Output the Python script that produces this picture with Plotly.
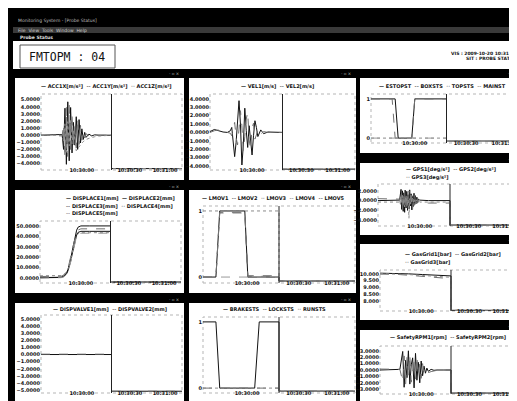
import plotly.graph_objects as go

W, H = 517, 401

# ------------------------------------------------------------------ data
time_tick_vals = [29, 63, 88]
time_tick_text = ["10:30:00", "10:30:30", "10:31:00"]

header_title = "FMTOPM : 04"
header_info = ["VIS : 2009-10-20 10:31:15", "SIT : PROBE STATUS"]

# panel 1 : accelerations
p1_time = [0, 10, 15, 16, 17, 18, 19, 20, 21, 22, 23, 24, 25, 26, 27, 28, 29, 30, 31, 32, 34, 36, 38, 41, 44, 47, 50, 50, 100]
p1_acc_x = [0, 0, 0.1, -2.0, 3.8, -4.1, 4.7, -3.6, 3.9, -2.5, 1.8, -1.4, 2.6, -2.0, 2.2, -1.1, 0.9, -0.6, 0.4, -0.3, 0.15, -0.1, 0.05, 0, 0, 0, 0, -4.7, -4.7]
p1_acc_y = [0, 0, -0.1, 1.5, -3.2, 3.9, -3.0, 4.2, -2.6, 2.9, -1.9, 1.2, -1.8, 2.4, -1.3, 1.4, -0.7, 0.5, -0.4, 0.2, -0.1, 0.05, 0, 0, 0, 0, 0, -4.7, -4.7]
p1_acc_z = [0, 0, 0, -0.8, 1.6, -2.4, 1.9, -1.5, 2.1, -1.2, 0.8, -0.6, -2.2, -1.9, -1.6, -1.3, -1.1, -0.9, -0.75, -0.6, -0.45, -0.32, -0.22, -0.12, -0.06, -0.02, 0, -4.7, -4.7]
p1_yticks = [5, 4, 3, 2, 1, 0, -1, -2, -3, -4]

# panel 2 : velocities
p2_time = [0, 3, 6, 9, 12, 14, 15, 16, 17, 18, 19, 20, 21, 22, 23, 24, 25, 26, 27, 28, 29, 30, 31, 32, 33, 35, 37, 40, 44, 50, 50, 100]
p2_vel_1 = [0.1, 0.35, 0.2, 0.05, 0, 0.2, 0.6, -0.8, -2.9, -1.2, 1.8, 3.8, 1.0, -3.9, -1.5, 2.9, 0.2, -1.8, 0.8, -1.0, -2.7, -0.4, 1.4, 0.6, -0.5, 0.3, -0.15, 0.05, 0, 0, -4.4, -4.4]
p2_vel_2 = [0, 0.2, 0.3, 0.1, 0, -0.1, -0.4, 0.5, 1.2, -0.6, -1.5, 0.4, 2.6, 0.8, -2.2, -0.5, 1.6, 2.4, -0.9, -2.0, 0.5, 1.1, -0.8, -0.3, 0.4, -0.2, 0.1, 0, 0, 0, -4.4, -4.4]
p2_yticks = [4, 3, 2, 1, 0, -1, -2, -3, -4]

# right 1 : status flags
r1_time = [0, 14, 16, 18, 27, 29, 50, 50, 100]
r1_estop = [1, 1, 1, 0, 0, 1, 1, -0.075, -0.075]
r1_box = [1, 1, 0, 0, 0, 1, 1, -0.075, -0.075]
r1_top = [0, 0, 0, 0, 0, 0, 0, -0.075, -0.075]
r1_main = [0, 0, 0, 0, 0, 0, 0, -0.075, -0.075]
r1_yticks = [1, 0]

# right 2 : angular accelerations
r2_time = [0, 10, 15, 16, 16.5, 17, 17.5, 18, 18.5, 19, 19.5, 20, 20.5, 21, 21.5, 22, 22.5, 23, 23.5, 24, 24.5, 25, 25.5, 26, 26.5, 27, 27.5, 28, 29, 35, 45, 50, 50, 100]
r2_acc_1 = [0, 0, 0.1, 2.3, -1.8, 2.0, -2.2, 1.6, -2.4, 2.1, -1.5, 1.9, -2.0, 1.2, -1.7, 2.2, -1.1, 1.4, -1.9, 0.9, -1.2, 1.5, -0.8, 1.0, -0.6, 0.7, -0.4, 0.3, 0.1, 0, 0, 0, -5.0, -5.0]
r2_acc_2 = [0.4, 0.4, 0.3, -1.5, 2.1, -2.3, 1.4, -1.9, 2.4, -1.2, 1.7, -2.1, 1.3, -1.6, 2.0, -0.9, 1.6, -1.4, 1.1, -1.8, 0.8, -1.0, 1.2, -0.7, 0.5, -0.6, 0.2, -0.3, -0.4, -0.5, -0.5, -0.5, -5.0, -5.0]
r2_acc_3 = [-0.3, -0.3, -0.3, 0.8, -0.6, 1.1, -0.9, 0.5, -1.3, 0.7, -0.4, 1.0, -0.8, 0.6, -3.6, 0.4, -0.7, 0.9, -0.5, 0.6, -0.3, 0.4, -0.2, 0.3, -0.1, 0.2, -0.1, 0, -0.3, -0.3, -0.3, -0.3, -5.0, -5.0]
r2_yticks = [2, 0, -2, -4]

# right 3 : gas pressures
r3_time = [0, 11, 20, 30, 40, 50, 50, 100]
r3_gas_1 = [10.05, 10.05, 10.0, 9.95, 9.9, 9.85, 7.35, 7.35]
r3_gas_2 = [9.98, 9.97, 9.9, 9.8, 9.72, 9.65, 7.35, 7.35]
r3_gas_3 = [10.02, 10.0, 9.95, 9.88, 9.8, 9.75, 7.35, 7.35]
r3_yticks = [10, 9.5, 9, 8.5, 8]

# right 4 : rotation speeds
r4_time = [0, 8, 14, 16, 17, 18, 19, 20, 21, 22, 23, 24, 25, 26, 27, 28, 29, 30, 31, 32, 33, 34, 36, 38, 40, 45, 50, 50, 100]
r4_rpm_1 = [0, 0, 0.1, 2.9, -2.7, 1.5, -1.2, 3.0, -2.2, 0.8, 1.9, -2.8, 2.6, -1.6, 1.2, -2.0, 1.4, -0.9, 0.6, -0.5, 0.3, -0.2, 0.1, -0.05, 0, 0, 0, -3.6, -3.6]
r4_rpm_2 = [0.15, 0.15, 0.1, -1.8, 2.2, -2.5, 2.0, -1.1, 2.4, -1.9, -0.6, 1.3, -1.5, 2.1, -0.8, 0.9, -1.3, 1.0, -0.7, -0.9, -0.6, -0.4, -0.25, -0.15, -0.05, 0, 0, -3.6, -3.6]
r4_yticks = [3, 2, 1, 0, -1, -2, -3]

# panel 4 : displacements
p4_time = [0, 10, 15, 17, 19, 20, 21, 22, 23, 24, 25, 26, 27, 28, 29, 35, 45, 50, 50, 100]
p4_disp_1 = [0.5, 0.5, 0.8, 2.0, 5.5, 9.0, 14.0, 20.0, 27.0, 34.0, 41.0, 46.0, 48.8, 49.8, 50.0, 50.0, 50.0, 50.0, -3.8, -3.8]
p4_disp_2 = [0.3, 0.3, 0.6, 1.6, 4.5, 7.5, 12.0, 17.5, 24.0, 30.5, 37.0, 41.5, 43.8, 44.6, 44.8, 44.8, 44.8, 44.8, -3.8, -3.8]
p4_disp_3 = [1.5, 1.5, 1.8, 3.0, 6.5, 10.0, 15.0, 21.0, 27.5, 33.5, 39.0, 43.5, 46.0, 47.0, 47.2, 47.2, 47.2, 47.2, -3.8, -3.8]
p4_disp_4 = [2.2, 2.2, 2.4, 3.5, 6.0, 9.0, 13.5, 19.0, 25.0, 31.0, 36.5, 40.5, 42.5, 43.2, 43.5, 43.5, 43.5, 43.5, -3.8, -3.8]
p4_disp_5 = [0.1, 0.1, 0.4, 1.2, 4.0, 7.0, 11.0, 16.5, 23.0, 29.5, 35.5, 40.0, 42.0, 42.8, 43.0, 43.0, 43.0, 43.0, -3.8, -3.8]
p4_yticks = [50, 40, 30, 20, 10, 0]

# panel 5 : movement flags
p5_time = [0, 8.5, 11, 27.5, 29.5, 50, 50, 100]
p5_lmov_1 = [0, 0, 1, 1, 0, 0, -0.06, -0.06]
p5_lmov_2 = [0, 0, 0.98, 0.98, 0.01, 0.01, -0.06, -0.06]
p5_lmov_3 = [1, 1, 1, 1, 1, 1, -0.06, -0.06]
p5_lmov_4 = [0, 0, 0, 0, 0, 0, -0.06, -0.06]
p5_lmov_5 = [0, 0, 0.97, 0.97, 0.02, 0.02, -0.06, -0.06]
p5_yticks = [1, 0]

# panel 7 : valve displacements
p7_time = [0, 50, 50, 100]
p7_valve_1 = [0, 0, -5.15, -5.15]
p7_valve_2 = [0.05, 0.05, -5.15, -5.15]
p7_yticks = [5, 4, 3, 2, 1, 0, -1, -2, -3, -4, -5]

# panel 8 : brake / lock / run flags
p8_time = [0, 8.5, 11, 34, 37, 50, 50, 100]
p8_brake = [1, 1, 0, 0, 1, 1, -0.045, -0.045]
p8_lock = [0, 0, 0, 0, 0, 0, -0.045, -0.045]
p8_run = [0, 0, 0, 0, 0, 0, -0.045, -0.045]
p8_yticks = [1, 0]

# ------------------------------------------------------------------ styles / layout
LINE = {
    'solid': dict(color='#111111', width=1, dash='solid'),
    'dash': dict(color='#707070', width=1, dash='dash'),
    'dot': dict(color='#8a8a8a', width=1, dash='dot'),
    'ldash': dict(color='#9a9a9a', width=1, dash='dash'),
}
SAMPLE = {
    'solid': '<span style="color:#111">—</span>',
    'dash': '<span style="color:#707070">--</span>',
    'dot': '<span style="color:#8a8a8a">··</span>',
    'ldash': '<span style="color:#9a9a9a">--</span>',
}

panels = [
    dict(box=(7, 70, 176, 172), plot=(33, 86, 174, 162), yrange=(-4.9, 5.8), yticks=p1_yticks, fmt='.4f',
         time=p1_time,
         series=[(p1_acc_x, 'ACC1X[m/s²]', 'solid'), (p1_acc_y, 'ACC1Y[m/s²]', 'dash'), (p1_acc_z, 'ACC1Z[m/s²]', 'dot')],
         legend=[[0, 1, 2]], leg_xy=(98, 78), leg_anchor='center'),
    dict(box=(181, 70, 348, 172), plot=(202, 86, 347, 162), yrange=(-4.5, 4.6), yticks=p2_yticks, fmt='.4f',
         time=p2_time,
         series=[(p2_vel_1, 'VEL1[m/s]', 'solid'), (p2_vel_2, 'VEL2[m/s]', 'dash')],
         legend=[[0, 1]], leg_xy=(269, 78), leg_anchor='center'),
    dict(box=(352, 70, 515, 145), plot=(363, 86, 514, 135), yrange=(-0.125, 1.125), yticks=r1_yticks, fmt='d',
         time=r1_time,
         series=[(r1_estop, 'ESTOPST', 'solid'), (r1_box, 'BOXSTS', 'dash'), (r1_top, 'TOPSTS', 'dot'), (r1_main, 'MAINST', 'ldash')],
         legend=[[0, 1, 2, 3]], leg_xy=(434, 78), leg_anchor='center'),
    dict(box=(352, 155, 515, 227), plot=(370, 176, 514, 218), yrange=(-5.2, 3.4), yticks=r2_yticks, fmt='.4f',
         time=r2_time,
         series=[(r2_acc_1, 'GPS1[deg/s²]', 'solid'), (r2_acc_2, 'GPS2[deg/s²]', 'dash'), (r2_acc_3, 'GPS3[deg/s²]', 'dot')],
         legend=[[0, 1], [2]], leg_xy=(396, 162), leg_anchor='left'),
    dict(box=(352, 236, 515, 312), plot=(372, 262, 514, 303), yrange=(7.3, 10.28), yticks=r3_yticks, fmt='.3f',
         time=r3_time,
         series=[(r3_gas_1, 'GasGrid1[bar]', 'solid'), (r3_gas_2, 'GasGrid2[bar]', 'dash'), (r3_gas_3, 'GasGrid3[bar]', 'dot')],
         legend=[[0, 1], [2]], leg_xy=(395, 246), leg_anchor='left'),
    dict(box=(352, 322, 515, 397), plot=(372, 338, 514, 386), yrange=(-3.75, 3.75), yticks=r4_yticks, fmt='.4f',
         time=r4_time,
         series=[(r4_rpm_1, 'SafetyRPM1[rpm]', 'solid'), (r4_rpm_2, 'SafetyRPM2[rpm]', 'dash')],
         legend=[[0, 1]], leg_xy=(440, 329), leg_anchor='center'),
    dict(box=(7, 182, 176, 285), plot=(32, 213, 173, 275), yrange=(-4.7, 54.7), yticks=p4_yticks, fmt='.4f',
         time=p4_time,
         series=[(p4_disp_1, 'DISPLACE1[mm]', 'solid'), (p4_disp_2, 'DISPLACE2[mm]', 'solid'),
                 (p4_disp_3, 'DISPLACE3[mm]', 'dash'), (p4_disp_4, 'DISPLACE4[mm]', 'dot'), (p4_disp_5, 'DISPLACE5[mm]', 'ldash')],
         legend=[[0, 1], [2, 3], [4]], leg_xy=(56, 190), leg_anchor='left'),
    dict(box=(181, 182, 348, 285), plot=(195, 198, 347, 275), yrange=(-0.09, 1.075), yticks=p5_yticks, fmt='d',
         time=p5_time,
         series=[(p5_lmov_1, 'LMOV1', 'solid'), (p5_lmov_2, 'LMOV2', 'dash'), (p5_lmov_3, 'LMOV3', 'dot'),
                 (p5_lmov_4, 'LMOV4', 'ldash'), (p5_lmov_5, 'LMOV5', 'dash')],
         legend=[[0, 1, 2, 3, 4]], leg_xy=(265, 190), leg_anchor='center'),
    dict(box=(7, 295, 176, 397), plot=(33, 307, 174, 385), yrange=(-5.4, 5.55), yticks=p7_yticks, fmt='.4f',
         time=p7_time,
         series=[(p7_valve_1, 'DISPVALVE1[mm]', 'solid'), (p7_valve_2, 'DISPVALVE2[mm]', 'dash')],
         legend=[[0, 1]], leg_xy=(102, 301), leg_anchor='center'),
    dict(box=(181, 295, 348, 397), plot=(195, 309, 347, 385), yrange=(-0.074, 1.074), yticks=p8_yticks, fmt='d',
         time=p8_time,
         series=[(p8_brake, 'BRAKESTS', 'solid'), (p8_lock, 'LOCKSTS', 'dash'), (p8_run, 'RUNSTS', 'dot')],
         legend=[[0, 1, 2]], leg_xy=(266, 301), leg_anchor='center'),
]


def X(p):
    return p / W


def Y(p):
    return 1 - p / H


FONT = 'DejaVu Sans'
fig = go.Figure()
shapes = []
annotations = []
layout = {}

# window chrome
shapes.append(dict(type='rect', xref='paper', yref='paper', x0=X(5), x1=X(515), y0=Y(19), y1=Y(25),
                   line=dict(width=0), fillcolor='#3a3a3a', layer='below'))
shapes.append(dict(type='rect', xref='paper', yref='paper', x0=X(5), x1=X(515), y0=Y(33), y1=Y(61),
                   line=dict(width=0), fillcolor='white', layer='below'))
shapes.append(dict(type='rect', xref='paper', yref='paper', x0=X(12), x1=X(107), y0=Y(37), y1=Y(60),
                   line=dict(width=1, color='#555'), fillcolor='white', layer='below'))
annotations.append(dict(x=X(59), y=Y(49), xref='paper', yref='paper', text=header_title, showarrow=False,
                        font=dict(family='DejaVu Sans Mono', size=11.5, color='#111'), xanchor='center', yanchor='middle'))
for k, t in enumerate(header_info):
    annotations.append(dict(x=X(511), y=Y(45 + 6 * k), xref='paper', yref='paper', text=t, showarrow=False,
                            font=dict(family=FONT, size=4.5, color='#111', weight='bold'), xanchor='right', yanchor='middle'))
annotations.append(dict(x=X(8), y=Y(22), xref='paper', yref='paper', text='File&nbsp;&nbsp;View&nbsp;&nbsp;Tools&nbsp;&nbsp;Window&nbsp;&nbsp;Help',
                        showarrow=False, font=dict(family=FONT, size=4.5, color='#cfcfcf'), xanchor='left', yanchor='middle'))
annotations.append(dict(x=X(10), y=Y(29), xref='paper', yref='paper', text='Probe Status',
                        showarrow=False, font=dict(family=FONT, size=4.5, color='#e0e0e0', weight='bold'), xanchor='left', yanchor='middle'))
annotations.append(dict(x=X(8), y=Y(12), xref='paper', yref='paper', text='Monitoring System - [Probe Status]',
                        showarrow=False, font=dict(family=FONT, size=4.5, color='#bdbdbd'), xanchor='left', yanchor='middle'))

tickfont = dict(family=FONT, size=5, color='#111', weight='bold')

for i, p in enumerate(panels, start=1):
    sfx = '' if i == 1 else str(i)
    xr, yr = 'x' + sfx, 'y' + sfx
    bx0, by0, bx1, by1 = p['box']
    L, T, R, B = p['plot']
    shapes.append(dict(type='rect', xref='paper', yref='paper', x0=X(bx0), x1=X(bx1), y0=Y(by1), y1=Y(by0),
                       line=dict(width=0), fillcolor='white', layer='below'))
    # window buttons in the panel title bar
    annotations.append(dict(x=X(bx1 - 3), y=Y(by0 - 4), xref='paper', yref='paper', text='-&nbsp;▫&nbsp;×',
                            showarrow=False, font=dict(family=FONT, size=4, color='#bbbbbb'), xanchor='right', yanchor='middle'))
    layout['xaxis' + sfx] = dict(domain=[X(L), X(R)], range=[0, 100], anchor=yr, showgrid=False, zeroline=False,
                                 showline=False, ticks='', ticklen=0, tickvals=time_tick_vals, ticktext=time_tick_text,
                                 ticklabelstandoff=-4, ticklabeloverflow='allow', tickfont=tickfont, fixedrange=True)
    layout['yaxis' + sfx] = dict(domain=[Y(B), Y(T)], range=list(p['yrange']), anchor=xr, showgrid=False, zeroline=False,
                                 showline=False, ticks='', ticklen=0, tickvals=p['yticks'], tickformat=p['fmt'],
                                 tickfont=tickfont, fixedrange=True)
    # dotted frame of the plot area
    shapes.append(dict(type='rect', xref=xr + ' domain', yref=yr + ' domain', x0=0, x1=1, y0=0, y1=1,
                       line=dict(width=1, color='#b5b5b5', dash='dot'), layer='below'))
    for vals, name, st in p['series']:
        fig.add_trace(go.Scatter(x=p['time'], y=vals, mode='lines', name=name, line=LINE[st],
                                 xaxis=xr, yaxis=yr, showlegend=False, hoverinfo='skip'))
    # cursor line
    shapes.append(dict(type='line', xref=xr, yref=yr + ' domain', x0=50, x1=50, y0=0, y1=1,
                       line=dict(width=1, color='#222')))
    # legend rows
    lx, ly = p['leg_xy']
    for r, row in enumerate(p['legend']):
        parts = []
        for idx in row:
            _, name, st = p['series'][idx]
            parts.append(SAMPLE[st] + '&nbsp;' + name)
        annotations.append(dict(x=X(lx), y=Y(ly + 7.5 * r), xref='paper', yref='paper',
                                text='&nbsp;&nbsp;'.join(parts), showarrow=False,
                                font=dict(family=FONT, size=5, color='#111', weight='bold'),
                                xanchor=p['leg_anchor'], yanchor='middle'))

fig.update_layout(
    width=W, height=H, margin=dict(l=0, r=0, t=0, b=0),
    paper_bgcolor='black', plot_bgcolor='white',
    showlegend=False, shapes=shapes, annotations=annotations,
    font=dict(family=FONT, size=5, color='#111'),
    **layout,
)

fig.write_html("out.html")
